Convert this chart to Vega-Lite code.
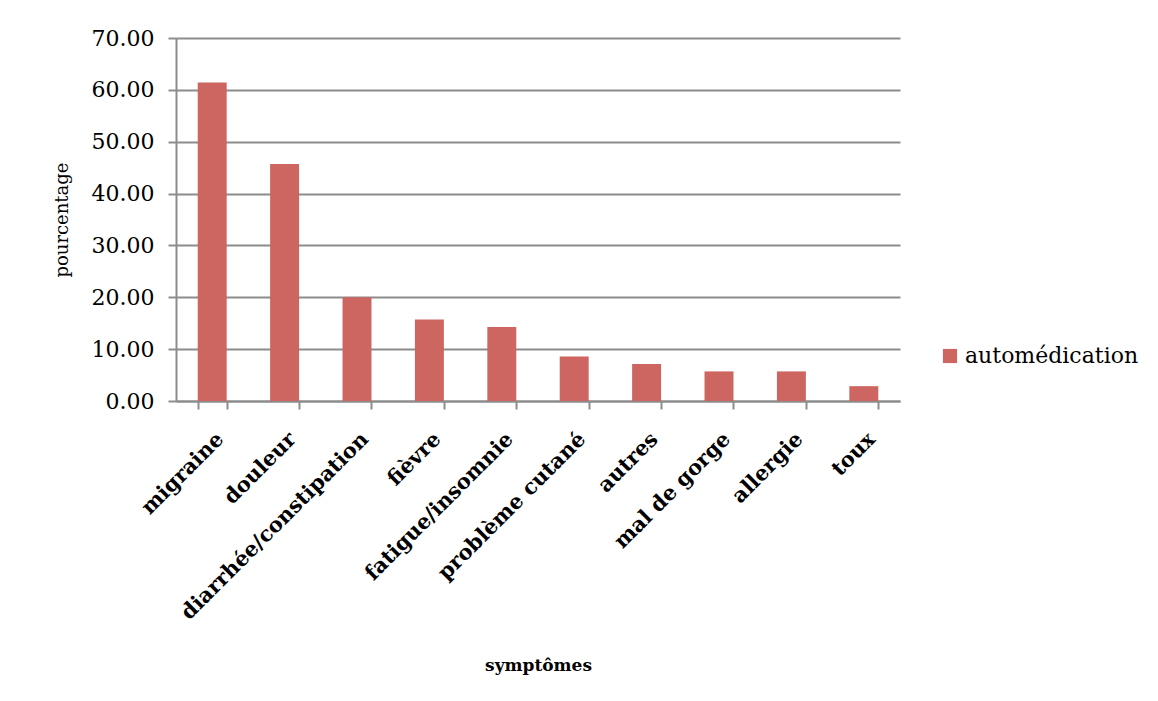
{
  "$schema": "https://vega.github.io/schema/vega-lite/v6.json",
  "autosize": "none",
  "width": 724,
  "height": 363,
  "padding": {"left": 176, "top": 38, "right": 258, "bottom": 300},
  "background": "white",
  "config": {
    "view": {"stroke": null},
    "font": "DejaVu Serif"
  },
  "data": {
    "values": [
      {"symptome": "migraine", "pourcentage": 61.43, "serie": "automédication"},
      {"symptome": "douleur", "pourcentage": 45.71, "serie": "automédication"},
      {"symptome": "diarrhée/constipation", "pourcentage": 20.0, "serie": "automédication"},
      {"symptome": "fièvre", "pourcentage": 15.71, "serie": "automédication"},
      {"symptome": "fatigue/insomnie", "pourcentage": 14.29, "serie": "automédication"},
      {"symptome": "problème cutané", "pourcentage": 8.57, "serie": "automédication"},
      {"symptome": "autres", "pourcentage": 7.14, "serie": "automédication"},
      {"symptome": "mal de gorge", "pourcentage": 5.71, "serie": "automédication"},
      {"symptome": "allergie", "pourcentage": 5.71, "serie": "automédication"},
      {"symptome": "toux", "pourcentage": 2.86, "serie": "automédication"}
    ]
  },
  "mark": {"type": "bar", "color": "#cd6660"},
  "encoding": {
    "x": {
      "field": "symptome",
      "type": "nominal",
      "sort": null,
      "scale": {"paddingInner": 0.6, "paddingOuter": 0.3},
      "axis": {
        "title": "symptômes",
        "titleFont": "DejaVu Serif",
        "titleFontSize": 17,
        "titleFontWeight": "bold",
        "titleColor": "#000",
        "titleY": 256,
        "labelAngle": -45,
        "labelAlign": "right",
        "labelBaseline": "top",
        "labelFontSize": 21,
        "labelFontWeight": "bold",
        "labelColor": "#000",
        "labelPadding": 19,
        "labelLimit": 0,
        "labelOverlap": false,
        "tickBand": "extent",
        "tickSize": 8,
        "tickColor": "#8c8c8c",
        "tickWidth": 2,
        "domainColor": "#8c8c8c",
        "domainWidth": 2,
        "grid": false
      }
    },
    "y": {
      "field": "pourcentage",
      "type": "quantitative",
      "scale": {"domain": [0, 70], "nice": false},
      "axis": {
        "title": "pourcentage",
        "titleFont": "DejaVu Serif",
        "titleFontSize": 18,
        "titleFontWeight": "normal",
        "titleColor": "#000",
        "titlePadding": 20,
        "values": [0, 10, 20, 30, 40, 50, 60, 70],
        "format": ".2f",
        "labelFontSize": 22,
        "labelColor": "#000",
        "labelPadding": 14,
        "tickSize": 8,
        "tickColor": "#8c8c8c",
        "tickWidth": 2,
        "domainColor": "#8c8c8c",
        "domainWidth": 2,
        "gridColor": "#8c8c8c",
        "gridWidth": 2
      }
    },
    "color": {
      "field": "serie",
      "type": "nominal",
      "scale": {"range": ["#cd6660"]},
      "legend": {
        "title": null,
        "orient": "none",
        "legendX": 763,
        "legendY": 307,
        "symbolType": "square",
        "symbolSize": 200,
        "symbolStrokeWidth": 0,
        "labelFontSize": 22,
        "labelColor": "#000",
        "labelOffset": 4,
        "labelLimit": 0
      }
    }
  }
}
